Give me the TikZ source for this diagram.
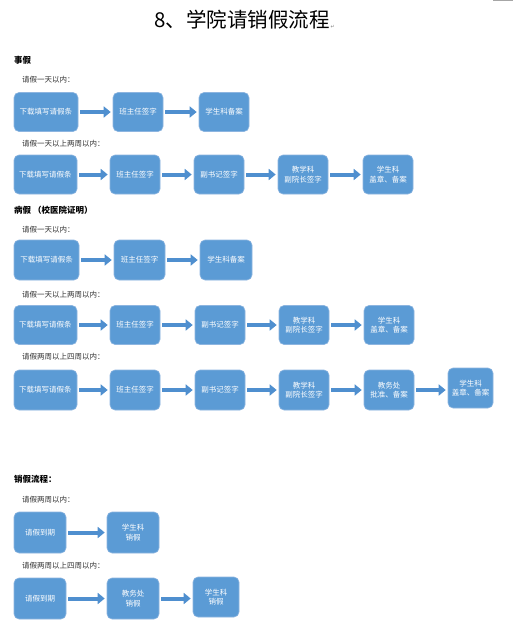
\documentclass[tikz,border=0pt]{standalone}
\usepackage{fontspec}
\setmainfont{Noto Sans CJK SC}
\newfontfamily\symfont{DejaVu Sans}
\usetikzlibrary{arrows.meta}
\definecolor{boxblue}{HTML}{5B9BD5}
\definecolor{edgeblue}{HTML}{8DB5E0}
\definecolor{arrowblue}{HTML}{4F8FCF}
\tikzset{
  stepbox/.style={draw=edgeblue, line width=0.6pt, fill=boxblue, rounded corners=5pt,
    text=white, font=\fontsize{7.5}{9.5}\selectfont, align=center,
    minimum height=39pt, inner sep=1pt},
  flowarrow/.style={draw=arrowblue, line width=4pt,
    -{Triangle[length=7pt,width=11pt]}, shorten <=2pt, shorten >=2pt},
  headline/.style={anchor=west, font=\fontsize{8.5}{10}\selectfont\bfseries, inner sep=0pt},
  subline/.style={anchor=west, font=\fontsize{7.5}{9}\selectfont, text=black!80, inner sep=0pt}
}
\begin{document}
\begin{tikzpicture}[x=1pt, y=-1pt]
    % 1. 页面范围
    \useasboundingbox[fill=white] (0,0) rectangle (513,633);
    \draw[gray!70, line width=1pt] (493,0.5) -- (513,0.5);

    % 2. 标题
    \node[font=\fontsize{20.5}{22}\selectfont, inner sep=0pt] (title) at (242,20) {8、学院请销假流程};
    \node[right, inner sep=0.5pt, text=gray, font=\symfont\fontsize{5}{6}\selectfont] at ([yshift=3pt]title.south east) {↵};

    % 3. 事假：一天以内
    \node[headline] (hdA) at (14,60) {事假};
    \node[subline] (lbA1) at (22,80) {请假一天以内：};
    \node[stepbox, minimum width=64pt] (a11) at (46,112) {下载填写请假条};
    \node[stepbox, minimum width=50pt] (a12) at (138,112) {班主任签字};
    \node[stepbox, minimum width=50pt] (a13) at (224,112) {学生科备案};
    \draw[flowarrow] (a11) -- (a12);
    \draw[flowarrow] (a12) -- (a13);

    % 4. 事假：一天以上两周以内
    \node[subline] (lbA2) at (22,144) {请假一天以上两周以内：};
    \node[stepbox, minimum width=63pt] (a21) at (45.5,174.5) {下载填写请假条};
    \node[stepbox, minimum width=50pt] (a22) at (135,174.5) {班主任签字};
    \node[stepbox, minimum width=50pt] (a23) at (219,174.5) {副书记签字};
    \node[stepbox, minimum width=50pt] (a24) at (303,174.5) {教学科\\副院长签字};
    \node[stepbox, minimum width=50pt] (a25) at (388,174.5) {学生科\\盖章、备案};
    \draw[flowarrow] (a21) -- (a22);
    \draw[flowarrow] (a22) -- (a23);
    \draw[flowarrow] (a23) -- (a24);
    \draw[flowarrow] (a24) -- (a25);

    % 5. 病假：一天以内
    \node[headline] (hdB) at (14,210) {病假 （校医院证明）};
    \node[subline] (lbB1) at (22,230) {请假一天以内：};
    \node[stepbox, minimum width=65pt, minimum height=40pt] (b11) at (46.5,260) {下载填写请假条};
    \node[stepbox, minimum width=51pt, minimum height=40pt] (b12) at (139.5,260) {班主任签字};
    \node[stepbox, minimum width=52pt, minimum height=40pt] (b13) at (226,260) {学生科备案};
    \draw[flowarrow] (b11) -- (b12);
    \draw[flowarrow] (b12) -- (b13);

    % 6. 病假：一天以上两周以内
    \node[subline] (lbB2) at (22,295) {请假一天以上两周以内：};
    \node[stepbox, minimum width=63pt] (b21) at (45.5,325) {下载填写请假条};
    \node[stepbox, minimum width=50pt] (b22) at (135,325) {班主任签字};
    \node[stepbox, minimum width=50pt] (b23) at (220,325) {副书记签字};
    \node[stepbox, minimum width=50pt] (b24) at (304,325) {教学科\\副院长签字};
    \node[stepbox, minimum width=50pt] (b25) at (389,325) {学生科\\盖章、备案};
    \draw[flowarrow] (b21) -- (b22);
    \draw[flowarrow] (b22) -- (b23);
    \draw[flowarrow] (b23) -- (b24);
    \draw[flowarrow] (b24) -- (b25);

    % 7. 病假：两周以上四周以内
    \node[subline] (lbB3) at (22,357) {请假两周以上四周以内：};
    \node[stepbox, minimum width=63pt, minimum height=40pt] (b31) at (45.5,390) {下载填写请假条};
    \node[stepbox, minimum width=50pt, minimum height=40pt] (b32) at (135,390) {班主任签字};
    \node[stepbox, minimum width=50pt, minimum height=40pt] (b33) at (220,390) {副书记签字};
    \node[stepbox, minimum width=50pt, minimum height=40pt] (b34) at (304,390) {教学科\\副院长签字};
    \node[stepbox, minimum width=50pt, minimum height=40pt] (b35) at (389,390) {教务处\\批准、备案};
    \node[stepbox, minimum width=45pt, minimum height=40pt] (b36) at (470.5,388) {学生科\\盖章、备案};
    \draw[flowarrow] (b31) -- (b32);
    \draw[flowarrow] (b32) -- (b33);
    \draw[flowarrow] (b33) -- (b34);
    \draw[flowarrow] (b34) -- (b35);
    \draw[flowarrow] (b35.east) -- (b35.east -| b36.west);

    % 8. 销假流程：两周以内
    \node[headline] (hdC) at (14,479) {销假流程：};
    \node[subline] (lbC1) at (22,500) {请假两周以内：};
    \node[stepbox, minimum width=52pt, minimum height=41pt] (c11) at (40,532.5) {请假到期};
    \node[stepbox, minimum width=52pt, minimum height=41pt] (c12) at (133,532.5) {学生科\\销假};
    \draw[flowarrow] (c11) -- (c12);

    % 9. 销假流程：两周以上四周以内
    \node[subline] (lbC2) at (22,566) {请假两周以上四周以内：};
    \node[stepbox, minimum width=52pt, minimum height=41pt] (c21) at (40,598.5) {请假到期};
    \node[stepbox, minimum width=52pt, minimum height=41pt] (c22) at (133,598.5) {教务处\\销假};
    \node[stepbox, minimum width=46pt, minimum height=40pt] (c23) at (216,597) {学生科\\销假};
    \draw[flowarrow] (c21) -- (c22);
    \draw[flowarrow] (c22.east) -- (c22.east -| c23.west);
\end{tikzpicture}
\end{document}
